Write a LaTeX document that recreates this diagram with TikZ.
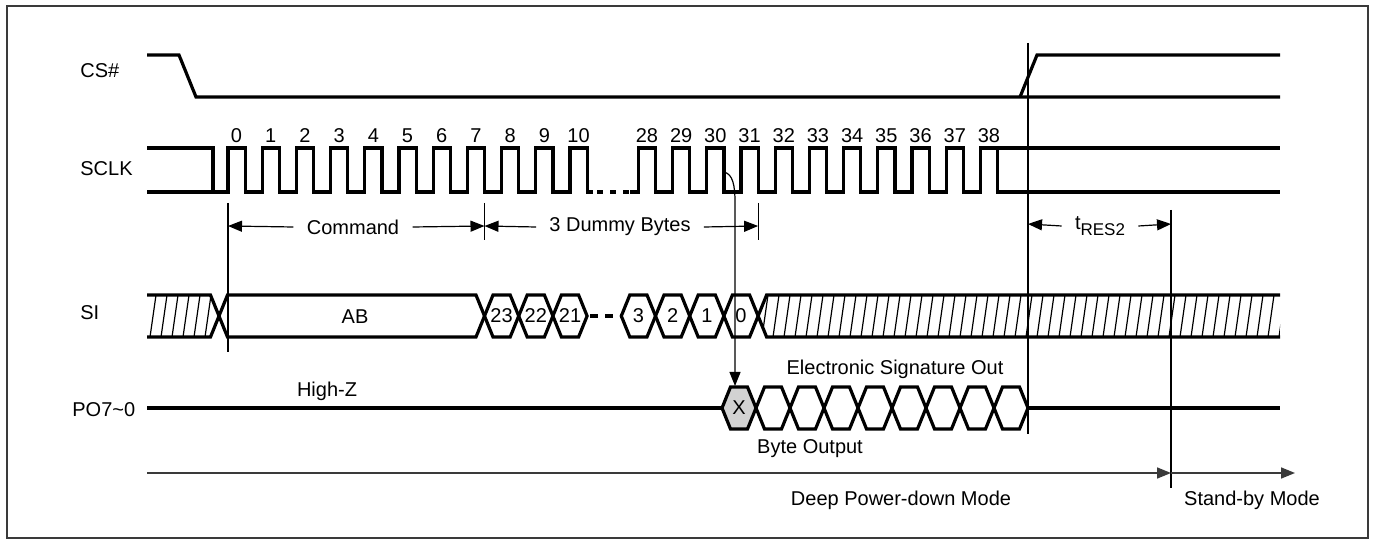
\documentclass[tikz,border=0pt]{standalone}
\usepackage{fontspec}
\setmainfont{Liberation Sans}
\usetikzlibrary{arrows.meta}

\begin{document}
\begin{tikzpicture}[
  x=0.5pt, y=-0.5pt,
  font=\fontsize{10}{12}\selectfont,
  every node/.style={inner sep=0pt},
  sig/.style={line width=1.6pt, line join=miter},
  thin/.style={line width=0.6pt},
  dim/.style={line width=0.6pt, -{Triangle[length=7pt,width=5.5pt]}},
  dimlabel/.style={inner xsep=6.5pt},
]

\definecolor{ink}{HTML}{000000}
\definecolor{xfill}{HTML}{D2D2D2}
\definecolor{frame}{HTML}{3A3A3A}

\def\T{34.2}   % clock period
\def\R{228}    % rising edge of clock 0
\def\hl{148}   % SCLK high
\def\ll{192}   % SCLK low
\def\sh{295}   % SI top
\def\sl{337}   % SI bottom
\def\sm{316}   % SI middle
\def\pt{387}   % PO top
\def\pb{429}   % PO bottom
\def\py{408}   % PO middle
\def\tp{8.5}   % hexagon tip

\useasboundingbox (0,0) rectangle (1374,544);
\draw[frame, line width=0.6pt] (7,6) rectangle (1368,538);

% signal names
\node[anchor=west] (ncs)   at (80,71)  {CS\#};
\node[anchor=west] (nsclk) at (80,169) {SCLK};
\node[anchor=west] (nsi)   at (80,313) {SI};
\node[anchor=west] (npo)   at (72,410) {PO7\textasciitilde0};

% CS#
\draw[sig] (147,55) -- (179,55) -- (196,97) -- (1280,97);
\draw[sig] (1020,97) -- (1037,55) -- (1280,55);

% SCLK
\draw[sig] (147,\hl) -- (213,\hl) -- (213,\ll);
\draw[sig] (147,\ll)
  \foreach \j in {0,...,10} {
    -- ({\R+\j*\T},\ll) -- ({\R+\j*\T},\hl)
    -- ({\R+(\j+0.5)*\T},\hl) -- ({\R+(\j+0.5)*\T},\ll)
  } -- (593,\ll);
\draw[sig, dash pattern=on 3pt off 3.5pt] (597,\ll) -- (630,\ll);
\draw[sig] (630,\ll)
  \foreach \j in {12,...,21} {
    -- ({\R+\j*\T},\ll) -- ({\R+\j*\T},\hl)
    -- ({\R+(\j+0.5)*\T},\hl) -- ({\R+(\j+0.5)*\T},\ll)
  } -- ({\R+22*\T},\ll) -- ({\R+22*\T},\hl) -- (1280,\hl);
\draw[sig] ({\R+22.5*\T},\hl) -- ({\R+22.5*\T},\ll) -- (1280,\ll);

\foreach \j/\n in {0/0,1/1,2/2,3/3,4/4,5/5,6/6,7/7,8/8,9/9,10/10,
                   12/28,13/29,14/30,15/31,16/32,17/33,18/34,19/35,20/36,21/37,22/38}
  \node (c\n) at ({\R+\j*\T+\T/4},136) {\n};

% SI, don't care before the command
\begin{scope}
  \clip (147,\sh) -- (210.5,\sh) -- (219,\sm) -- (210.5,\sl) -- (147,\sl) -- cycle;
  \foreach \x in {150,161,...,216}
    \draw[thin] (\x,\sl) -- (\x+6,\sh);
\end{scope}
\draw[sig] (147,\sh) -- (210.5,\sh) -- (219,\sm) -- (210.5,\sl) -- (147,\sl);

% SI, command byte
\draw[sig] (219,\sm) -- (227.5,\sh) -- ({\R+7.5*\T-\tp},\sh) -- ({\R+7.5*\T},\sm)
  -- ({\R+7.5*\T-\tp},\sl) -- (227.5,\sl) -- cycle;
\node (ab) at (355,317) {AB};

% SI, address bits
\foreach \j/\txt in {7/23,8/22,9/21,11/3,12/2,13/1,14/0} {
  \pgfmathsetmacro{\a}{\R+(\j+0.5)*\T}
  \draw[sig] (\a,\sm) -- (\a+\tp,\sh) -- (\a+\T-\tp,\sh) -- (\a+\T,\sm)
    -- (\a+\T-\tp,\sl) -- (\a+\tp,\sl) -- cycle;
  \node (si\txt) at (\a+\T/2,\sm) {\txt};
}
\draw[sig, dash pattern=on 4pt off 3.5pt] ({\R+10.5*\T+3},\sm) -- ({\R+11.5*\T},\sm);

% SI, don't care after the address
\begin{scope}
  \clip ({\R+15.5*\T},\sm) -- ({\R+15.5*\T+\tp},\sh) -- (1280,\sh) -- (1280,\sl)
    -- ({\R+15.5*\T+\tp},\sl) -- cycle;
  \foreach \x in {762,773,...,1280}
    \draw[thin] (\x,\sl) -- (\x+6,\sh);
\end{scope}
\draw[sig] (1280,\sh) -- ({\R+15.5*\T+\tp},\sh) -- ({\R+15.5*\T},\sm)
  -- ({\R+15.5*\T+\tp},\sl) -- (1280,\sl);

% PO7~0
\draw[sig] (147,\py) -- (722,\py);
\draw[sig, fill=xfill] (722,\py) -- (722+\tp,\pt) -- (756-\tp,\pt) -- (756,\py)
  -- (756-\tp,\pb) -- (722+\tp,\pb) -- cycle;
\node (xo) at (739,\py) {X};
\foreach \k in {1,...,8} {
  \pgfmathsetmacro{\a}{722+\k*34}
  \draw[sig] (\a,\py) -- (\a+\tp,\pt) -- (\a+34-\tp,\pt) -- (\a+34,\py)
    -- (\a+34-\tp,\pb) -- (\a+\tp,\pb) -- cycle;
}
\draw[sig] (1028,\py) -- (1280,\py);

\node (hiz) at (327,391) {High-Z};
\node (eso) at (895,369) {Electronic Signature Out};
\node (bout) at (810,449) {Byte Output};

% timing marks
\draw[thin] (228,203) -- (228,352);
\draw[thin] ({\R+7.5*\T},203) -- ({\R+7.5*\T},240);
\draw[thin] ({\R+15.5*\T},203) -- ({\R+15.5*\T},240);
\draw[thin] (1028,43) -- (1028,434);
\draw[thin] (1171,210) -- (1171,488);

\coordinate (cmdL) at (228,226);
\coordinate (cmdR) at ({\R+7.5*\T},226);
\coordinate (dumR) at ({\R+15.5*\T},226);
\coordinate (resL) at (1028,224);
\coordinate (resR) at (1171,224);

\node[dimlabel] (cmd) at (353,227) {Command};
\draw[dim] (cmd.west) -- (cmdL);
\draw[dim] (cmd.east) -- (cmdR);

\node[dimlabel] (dum) at (620,227) {3 Dummy Bytes};
\draw[dim] (dum.west) -- (cmdR);
\draw[dim] (dum.east) -- (dumR);

\node[dimlabel] (tres) at (1100,226) {t\raisebox{-0.6ex}{\fontsize{8.5}{9}\selectfont RES2}};
\draw[dim] (tres.west) -- (resL);
\draw[dim] (tres.east) -- (resR);

% output starts at falling edge of clock 30
\coordinate (c30f) at ({\R+14.5*\T},172);
\coordinate (xin) at (735,386);
\draw[dim] (c30f) .. controls (733,174) and (735,186) .. (735,202) -- (xin);

% modes
\coordinate (m0) at (147,473);
\coordinate (m1) at (1171,473);
\coordinate (m2) at (1295,473);
\draw[dim, frame, line width=0.8pt] (m0) -- (m1);
\draw[dim, frame, line width=0.8pt] (m1) -- (m2);
\node (dpd) at (901,500) {Deep Power-down Mode};
\node (sby) at (1252,500) {Stand-by Mode};

\end{tikzpicture}
\end{document}
